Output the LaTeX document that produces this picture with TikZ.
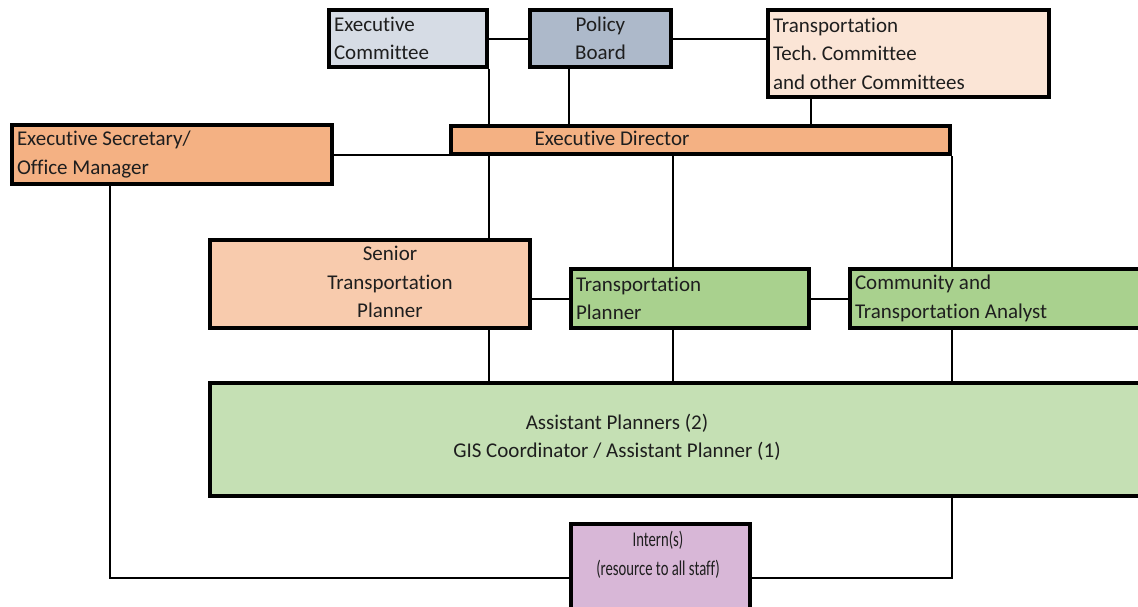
\documentclass[tikz,border=0pt]{standalone}
\usepackage{fontspec}
\setmainfont{Carlito}[Ligatures={NoCommon}]
\frenchspacing
\definecolor{ecfill}{HTML}{D6DCE5}
\definecolor{pbfill}{HTML}{ADB9CA}
\definecolor{ttfill}{HTML}{FBE5D6}
\definecolor{edfill}{HTML}{F4B183}
\definecolor{srfill}{HTML}{F8CBAD}
\definecolor{tpfill}{HTML}{A9D18E}
\definecolor{apfill}{HTML}{C5E0B4}
\definecolor{infill}{HTML}{D8B7D7}
\definecolor{txt}{HTML}{1E1E1E}
\begin{document}
\begin{tikzpicture}[x=1pt,y=-1pt,
  font=\fontsize{21}{28.5}\selectfont,
  box/.style={draw=black,line width=4pt,inner sep=0pt,anchor=north west,text=txt},
  lbl/.style={inner sep=0pt,align=center,text=txt},
  conn/.style={draw=black,line width=2pt}]
\useasboundingbox (0,0) rectangle (1138,606);
\fill[white] (0,0) rectangle (1138,606);
% boxes
\node[box,fill=ecfill,minimum width=158pt,minimum height=57pt,text width=148pt,align=flush left] (ec) at (327,8) {Executive\\Committee};
\node[box,fill=pbfill,minimum width=141pt,minimum height=57pt,text width=131pt,align=flush center] (pb) at (528,8) {Policy\\Board};
\node[box,fill=ttfill,minimum width=281pt,minimum height=87pt,text width=271pt,align=flush left] (tt) at (766,8) {Transportation\\Tech. Committee\\and other Committees};
\node[box,fill=edfill,minimum width=499pt,minimum height=28pt] (ed) at (449,124) {};
\node[box,fill=edfill,minimum width=320pt,minimum height=59pt,text width=310pt,align=flush left] (es) at (10,123) {Executive Secretary/\\Office Manager};
\node[box,fill=srfill,minimum width=320pt,minimum height=88pt] (sr) at (208,238) {};
\node[box,fill=tpfill,minimum width=238pt,minimum height=59pt,text width=228pt,align=flush left] (tp) at (569,267) {Transportation\\Planner};
\node[box,fill=tpfill,minimum width=300pt,minimum height=59pt,text width=290pt,align=flush left] (cm) at (848,267) {Community and\\Transportation Analyst};
\node[box,fill=apfill,minimum width=950pt,minimum height=113pt] (ap) at (208,381) {};
\node[box,fill=infill,minimum width=179pt,minimum height=100pt] (in) at (569,522) {};
% labels
\node[lbl] (edt) at (612,138) {Executive Director};
\node[lbl] (srt) at (390,282) {Senior\\Transportation\\Planner};
\node[lbl] (apt) at (617,437.5) {Assistant Planners (2)\\GIS Coordinator / Assistant Planner (1)};
\node[lbl] (int) at (658,555) {\scalebox{0.7}[1]{Intern(s)}\\\scalebox{0.7}[1]{(resource to all staff)}};
% helper coordinates
\coordinate (bl) at (110,578);
% connectors
\draw[conn] (ec.east) -- (pb.west);
\draw[conn] (pb.east) -- (pb.east -| tt.west);
\draw[conn] (ec.south east) -- (ec.south east |- ed.north);
\draw[conn] (pb.south -| tp.west) -- (ed.north -| tp.west);
\draw[conn] (tt.south -| tp.east) -- (ed.north -| tp.east);
\draw[conn] (es.east) -- (es.east -| ed.west);
\draw[conn] (ed.south -| ec.east) -- (sr.north -| ec.east);
\draw[conn] (ed.south -| pb.east) -- (tp.north -| pb.east);
\draw[conn] (ed.south east) -- (cm.north -| ed.east);
\draw[conn] (sr.east |- tp.west) -- (tp.west);
\draw[conn] (tp.east) -- (cm.west);
\draw[conn] (sr.south -| ec.east) -- (ap.north -| ec.east);
\draw[conn] (tp.south -| pb.east) -- (ap.north -| pb.east);
\draw[conn] (cm.south -| ed.east) -- (ap.north -| ed.east);
\draw[conn] (ap.south -| ed.east) |- (in.east |- bl);
\draw[conn] (es.south -| bl) |- (in.west |- bl);
\end{tikzpicture}
\end{document}
